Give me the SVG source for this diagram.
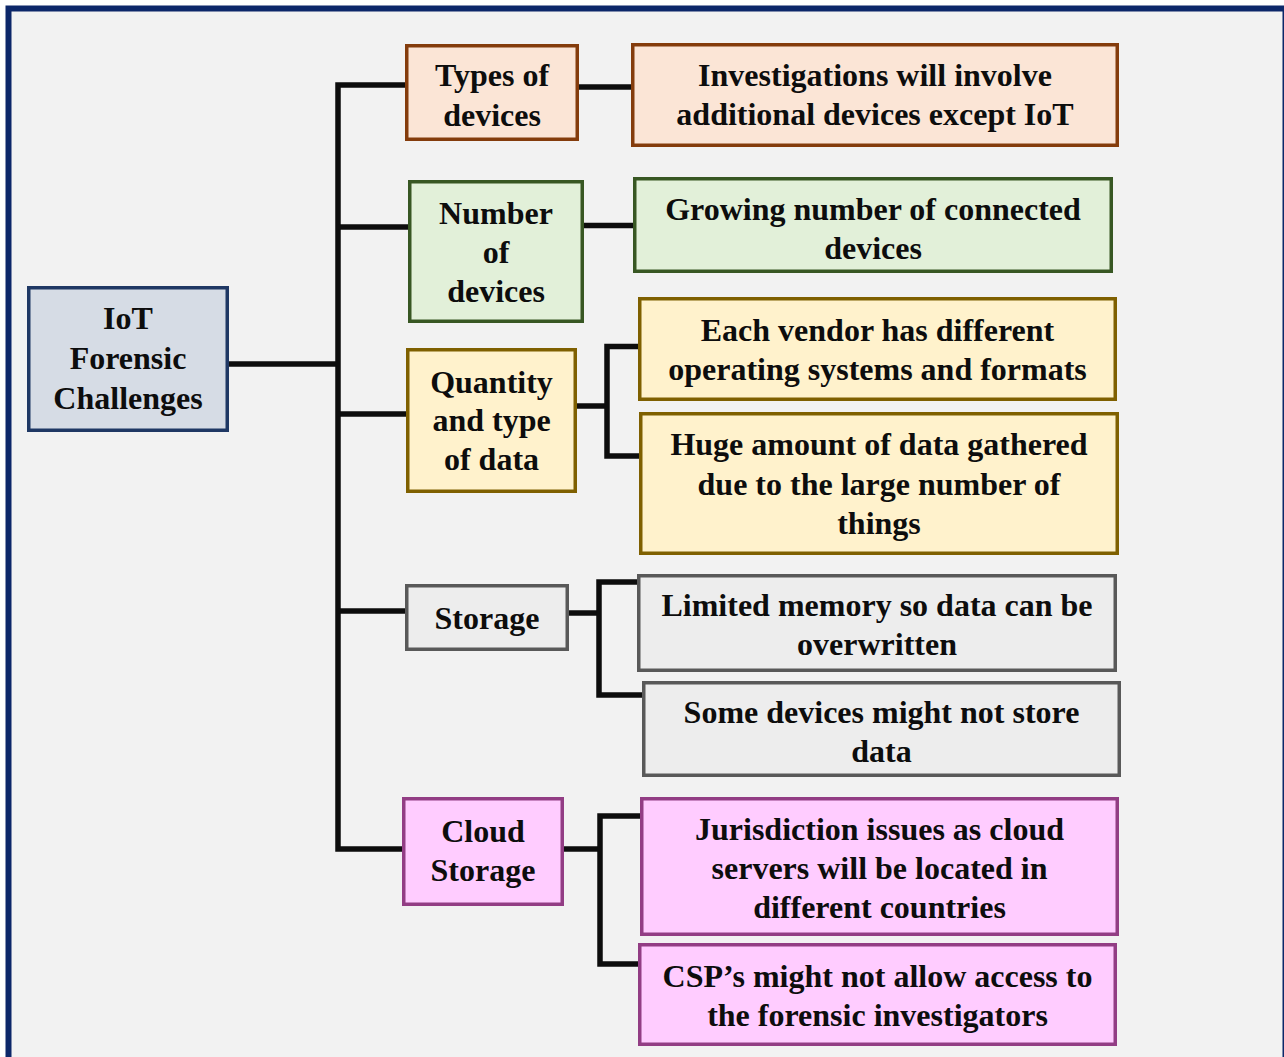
<svg xmlns="http://www.w3.org/2000/svg" width="1284" height="1057" viewBox="0 0 1284 1057">
<style>
  text { font-family: "Liberation Serif", "Times New Roman", serif; font-weight: bold; font-size: 32px; fill: #0d0d0d; text-anchor: middle; }
  rect.n { stroke-width: 3.5; }
  .root { fill: #d6dce5; stroke: #1f3864; }
  .brown { fill: #fbe5d6; stroke: #843c0c; }
  .green { fill: #e2f0d9; stroke: #385723; }
  .yellow { fill: #fff2cc; stroke: #7f6000; }
  .gray { fill: #ededed; stroke: #595959; }
  .pink { fill: #ffccff; stroke: #923d84; }
  #connectors path { fill: none; stroke: #0d0d0d; stroke-width: 5.5; stroke-linejoin: miter; stroke-linecap: butt; }
</style>
<rect x="8.5" y="8.5" width="1277" height="1060" fill="#f2f2f2" stroke="#0c2769" stroke-width="6"/>

<g id="connectors">
  <path d="M405 85 H338 V849 H402"/>
  <path d="M229 364 H338"/>
  <path d="M338 227 H408"/>
  <path d="M338 414 H406"/>
  <path d="M338 611 H405"/>
  <path d="M579 87 H631"/>
  <path d="M584 225.5 H633"/>
  <path d="M577 406 H607"/>
  <path d="M638 346.5 H607 V456 H639"/>
  <path d="M569 613 H599"/>
  <path d="M637 582 H599 V695 H642"/>
  <path d="M564 849 H600"/>
  <path d="M640 816 H600 V964 H638"/>
</g>

<g id="root">
  <rect class="n root" x="28.75" y="287.75" width="198.5" height="142.5"/>
  <text x="128" y="329">IoT</text>
  <text x="128" y="369">Forensic</text>
  <text x="128" y="409">Challenges</text>
</g>

<g id="types">
  <rect class="n brown" x="406.75" y="45.75" width="170.5" height="93.5"/>
  <text x="492" y="86">Types of</text>
  <text x="492" y="126">devices</text>
</g>
<g id="investigations">
  <rect class="n brown" x="632.75" y="44.75" width="484.5" height="100.5"/>
  <text x="875" y="86">Investigations will involve</text>
  <text x="875" y="125">additional devices except IoT</text>
</g>

<g id="number">
  <rect class="n green" x="409.75" y="181.75" width="172.5" height="139.5"/>
  <text x="496" y="224">Number</text>
  <text x="496" y="263">of</text>
  <text x="496" y="302">devices</text>
</g>
<g id="growing">
  <rect class="n green" x="634.75" y="178.75" width="476.5" height="92.5"/>
  <text x="873" y="220">Growing number of connected</text>
  <text x="873" y="259">devices</text>
</g>

<g id="quantity">
  <rect class="n yellow" x="407.75" y="349.75" width="167.5" height="141.5"/>
  <text x="491.5" y="393">Quantity</text>
  <text x="491.5" y="431">and type</text>
  <text x="491.5" y="470">of data</text>
</g>
<g id="vendor">
  <rect class="n yellow" x="639.75" y="298.75" width="475.5" height="100.5"/>
  <text x="877.5" y="341">Each vendor has different</text>
  <text x="877.5" y="380">operating systems and formats</text>
</g>
<g id="huge">
  <rect class="n yellow" x="640.75" y="413.75" width="476.5" height="139.5"/>
  <text x="879" y="455">Huge amount of data gathered</text>
  <text x="879" y="495">due to the large number of</text>
  <text x="879" y="534">things</text>
</g>

<g id="storage">
  <rect class="n gray" x="406.75" y="585.75" width="160.5" height="63.5"/>
  <text x="487" y="629">Storage</text>
</g>
<g id="limited">
  <rect class="n gray" x="638.75" y="575.75" width="476.5" height="94.5"/>
  <text x="877" y="616">Limited memory so data can be</text>
  <text x="877" y="655">overwritten</text>
</g>
<g id="some">
  <rect class="n gray" x="643.75" y="682.75" width="475.5" height="92.5"/>
  <text x="881.5" y="723">Some devices might not store</text>
  <text x="881.5" y="762">data</text>
</g>

<g id="cloud">
  <rect class="n pink" x="403.75" y="798.75" width="158.5" height="105.5"/>
  <text x="483" y="842">Cloud</text>
  <text x="483" y="881">Storage</text>
</g>
<g id="jurisdiction">
  <rect class="n pink" x="641.75" y="798.75" width="475.5" height="135.5"/>
  <text x="879.5" y="840">Jurisdiction issues as cloud</text>
  <text x="879.5" y="879">servers will be located in</text>
  <text x="879.5" y="918">different countries</text>
</g>
<g id="csp">
  <rect class="n pink" x="639.75" y="944.75" width="475.5" height="99.5"/>
  <text x="877.5" y="987">CSP’s might not allow access to</text>
  <text x="877.5" y="1026">the forensic investigators</text>
</g>
</svg>
